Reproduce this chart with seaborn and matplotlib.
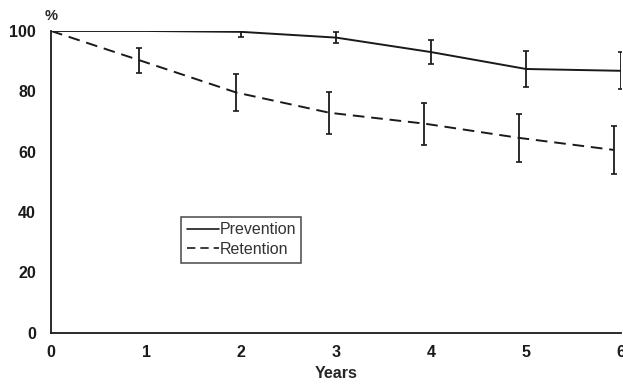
import pandas as pd
import matplotlib
matplotlib.use("Agg")
import matplotlib.pyplot as plt
from matplotlib.lines import Line2D
import seaborn as sns

# Values
prevention_years = [0, 1, 2, 3, 4, 5, 6]
prevention_pct = [100, 100, 99.7, 97.8, 93.0, 87.4, 86.8]
prevention_err = [0, 0, 1.8, 1.9, 4.0, 6.0, 6.1]

retention_years = [0, 0.93, 1.95, 2.93, 3.93, 4.92, 5.92]
retention_pct = [100, 90.3, 79.6, 72.9, 69.3, 64.6, 60.6]
retention_err = [0, 4.1, 6.0, 6.9, 7.0, 8.0, 7.9]

x_ticks = [0, 1, 2, 3, 4, 5, 6]
y_ticks = [0, 20, 40, 60, 80, 100]

df = pd.concat([
    pd.DataFrame({"Years": prevention_years, "pct": prevention_pct, "group": "Prevention"}),
    pd.DataFrame({"Years": retention_years, "pct": retention_pct, "group": "Retention"}),
], ignore_index=True)

sns.set_style("white")
plt.rcParams["font.family"] = ["Liberation Sans", "DejaVu Sans"]

fig = plt.figure(figsize=(6.23, 3.87), dpi=100)
ax = fig.add_axes([0.082, 0.14, 0.915, 0.78])

sns.lineplot(data=df, x="Years", y="pct", style="group",
             dashes={"Prevention": "", "Retention": (6, 3.5)},
             color="#1a1a1a", linewidth=1.4, ax=ax, legend=False)

# error bars drawn with matplotlib (seaborn computes its own otherwise)
ax.errorbar(prevention_years[2:], prevention_pct[2:], yerr=prevention_err[2:],
            fmt="none", ecolor="#1a1a1a", elinewidth=1.3, capsize=2.5, capthick=1.2)
ax.errorbar(retention_years[1:], retention_pct[1:], yerr=retention_err[1:],
            fmt="none", ecolor="#1a1a1a", elinewidth=1.3, capsize=2.5, capthick=1.2)

ax.set_xlim(0, 6)
ax.set_ylim(0, 100)
ax.set_xticks(x_ticks)
ax.set_yticks(y_ticks)
ax.tick_params(axis="both", direction="out", length=3, width=1, labelsize=11.5,
               colors="#1a1a1a")
for lbl in ax.get_xticklabels() + ax.get_yticklabels():
    lbl.set_fontweight("bold")
ax.tick_params(axis="x", pad=6)
ax.tick_params(axis="y", pad=8)

sns.despine(ax=ax)
for s in ["left", "bottom"]:
    ax.spines[s].set_color("#1a1a1a")
    ax.spines[s].set_linewidth(1.3)

ax.set_xlabel("Years", fontsize=11.5, fontweight="bold", labelpad=4)
ax.set_ylabel("")
ax.text(0, 102.5, "%", fontsize=10.5, fontweight="bold", ha="center", va="bottom")

handles = [Line2D([], [], color="#1a1a1a", lw=1.2),
           Line2D([], [], color="#1a1a1a", lw=1.2, dashes=(5, 3))]
leg = ax.legend(handles, ["Prevention", "Retention"], loc="upper left",
                bbox_to_anchor=(0.228, 0.385), fontsize=11.5, frameon=True,
                fancybox=False, handlelength=2.0, handletextpad=0.05,
                borderpad=0.35, labelspacing=0.3, borderaxespad=0)
for t in leg.get_texts():
    t.set_color("#333333")
leg.get_frame().set_edgecolor("#1a1a1a")
leg.get_frame().set_linewidth(1.1)

fig.savefig("out.png", dpi=100)
